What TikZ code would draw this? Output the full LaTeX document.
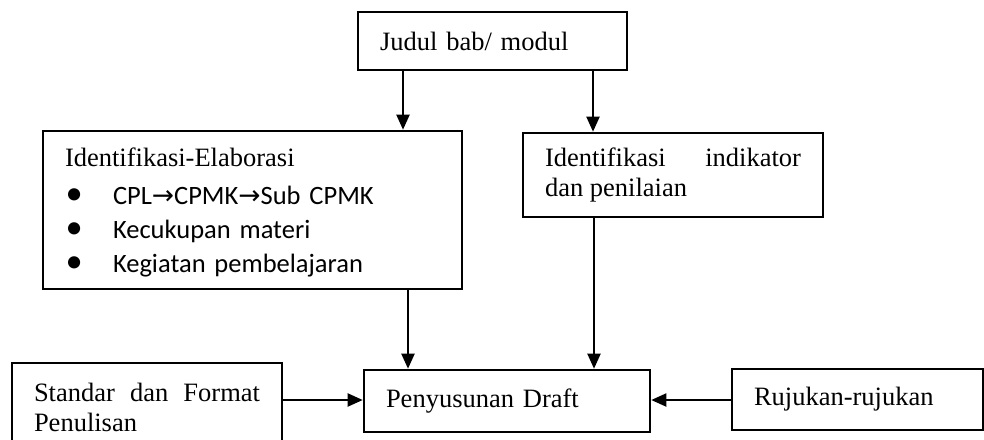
\documentclass[tikz,border=0pt]{standalone}
\usepackage{fontspec}
\usepackage{graphicx}
\setmainfont{Liberation Serif}
\newfontfamily\calfont{Carlito}
\newfontfamily\symfont{DejaVu Sans}
\usetikzlibrary{arrows.meta}
\hyphenpenalty=10000
\exhyphenpenalty=10000
\hbadness=10000
\newcommand{\bulitem}{\makebox[24pt][l]{\hspace{0.3pt}\scalebox{1.3}{\textbullet}}}
\begin{document}
\begin{tikzpicture}[x=0.5pt,y=-0.5pt,
  box/.style={draw, line width=1.3pt, rectangle, inner xsep=11pt, inner ysep=0pt,
    align=left, font=\fontsize{13.25}{15}\selectfont},
  jbox/.style={box, align=justify},
  arr/.style={-{Triangle[length=7.5pt,width=6.5pt]}, line width=1pt}]
\useasboundingbox (0,0) rectangle (984,439);
\node[box, text width=112.5pt, minimum height=29pt] (judul) at (492.5,41) {Judul bab/ modul};
\node[box, text width=187.5pt, minimum height=79pt] (elab) at (252.5,210)
  {\rule{0pt}{11.3pt}Identifikasi-Elaborasi\\[4pt]
   {\calfont\bulitem CPL{\symfont →}CPMK{\symfont →}Sub CPMK}\\[2pt]
   {\calfont\bulitem Kecukupan materi}\\[2pt]
   {\calfont\bulitem Kegiatan pembelajaran}};
\node[jbox, text width=128pt, minimum height=42pt] (ind) at (673,175) {Identifikasi indikator dan penilaian};
\node[box, text width=121pt, minimum height=31pt] (draft) at (507,401) {Penyusunan Draft};
\node[box, text width=103.5pt, minimum height=30.5pt] (ruj) at (857.5,399.5) {Rujukan-rujukan};
\node[jbox, text width=113pt, minimum height=44pt] (std) at (147,407) {Standar dan Format Penulisan};
\coordinate (c1) at (403,0);
\coordinate (c2) at (593,0);
\coordinate (c3) at (408,0);
\coordinate (c4) at (594,0);
\coordinate (h) at (0,400);
\draw[arr] (judul.south -| c1) -- (elab.north -| c1);
\draw[arr] (judul.south -| c2) -- (ind.north -| c2);
\draw[arr] (elab.south -| c3) -- (draft.north -| c3);
\draw[arr] (ind.south -| c4) -- (draft.north -| c4);
\draw[arr] (std.east |- h) -- (draft.west |- h);
\draw[arr] (ruj.west |- h) -- (draft.east |- h);
\end{tikzpicture}
\end{document}
